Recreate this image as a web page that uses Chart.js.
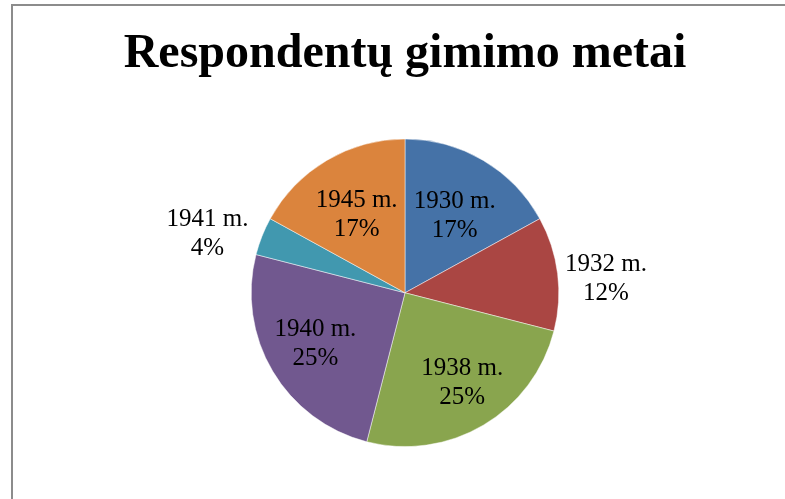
<!DOCTYPE html>
<html lang="lt">
  <head>
    <meta charset="UTF-8" />
    <title>Respondentų gimimo metai</title>
    <style>
      html, body { margin: 0; padding: 0; background: #fff; }
      .container { position: relative; width: 785px; height: 499px; }
    </style>
    <script src="https://cdn.jsdelivr.net/npm/chart.js"></script>
  </head>
  <body>
    <div class="container">
      <canvas id="chart" width="785" height="499"></canvas>
    </div>
    <script>
      // duomenys
      const years = ["1930 m.", "1932 m.", "1938 m.", "1940 m.", "1941 m.", "1945 m."];
      const shares = [17, 12, 25, 25, 4, 17];

      const colors = ["#4572A7", "#AA4643", "#89A54E", "#71588F", "#4198AF", "#DB843D"];
      // label placement: fraction of radius + small angle nudge (deg)
      const labelRadius = [0.6, 1.31, 0.69, 0.67, 1.34, 0.6];
      const labelNudge = [2, 3, -2, 1, -5, -1];

      const frame = {
        id: "frame",
        beforeDraw(chart) {
          const c = chart.ctx;
          c.save();
          c.strokeStyle = "#8c8c8c";
          c.lineWidth = 2;
          c.strokeRect(12, 5, 900, 700);
          c.restore();
        }
      };

      const sliceLabels = {
        id: "sliceLabels",
        afterDatasetsDraw(chart) {
          const c = chart.ctx;
          const meta = chart.getDatasetMeta(0);
          c.save();
          c.fillStyle = "#000";
          c.font = "25px 'Liberation Serif', 'Times New Roman', serif";
          c.textAlign = "center";
          c.textBaseline = "middle";
          meta.data.forEach((arc, i) => {
            const a = (arc.startAngle + arc.endAngle) / 2 + labelNudge[i] * Math.PI / 180;
            const r = arc.outerRadius * labelRadius[i];
            const x = arc.x + Math.cos(a) * r;
            const y = arc.y + Math.sin(a) * r;
            c.fillText(years[i], x, y - 14);
            c.fillText(shares[i] + "%", x, y + 15);
          });
          c.restore();
        }
      };

      new Chart(document.getElementById("chart"), {
        type: "pie",
        data: {
          labels: years,
          datasets: [{
            data: shares,
            backgroundColor: colors,
            borderColor: "rgba(255,255,255,0.6)",
            borderWidth: 0.8
          }]
        },
        options: {
          responsive: false,
          animation: false,
          layout: { padding: { top: 4, bottom: 52, left: 100, right: 75 } },
          plugins: {
            legend: { display: false },
            tooltip: { enabled: false },
            title: {
              display: true,
              text: "Respondentų gimimo metai",
              color: "#000",
              font: { family: "'Liberation Serif', 'Times New Roman', serif", size: 48, weight: "bold", lineHeight: 1.2 },
              padding: { top: 22, bottom: 55 }
            }
          }
        },
        plugins: [frame, sliceLabels]
      });
    </script>
  </body>
</html>
